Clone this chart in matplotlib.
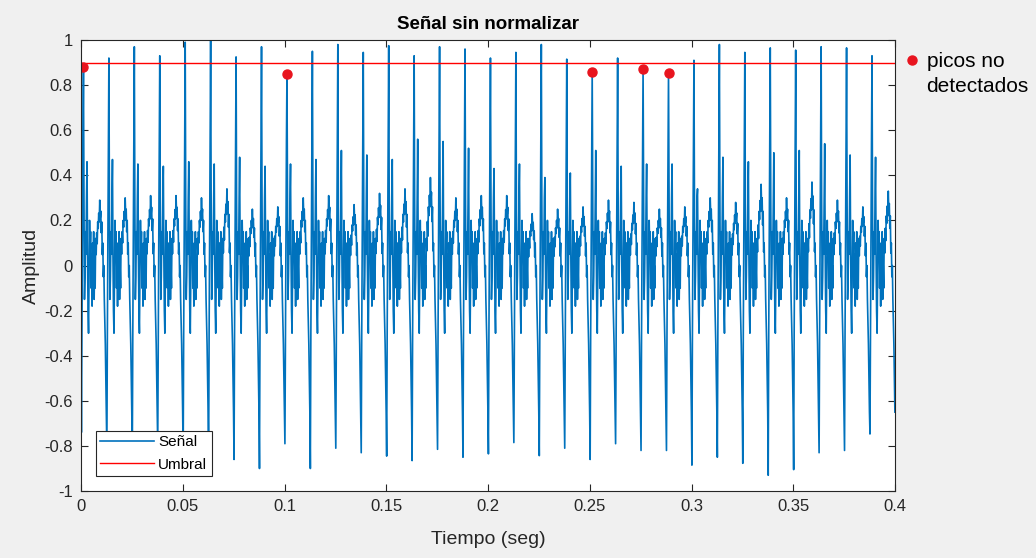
import matplotlib
matplotlib.use("Agg")
import matplotlib.pyplot as plt
from matplotlib.lines import Line2D
import numpy as np

plt.rcParams['font.family'] = ['Liberation Sans', 'DejaVu Sans']

# datos
periodo = 0.0125
dt = 0.00025
t_inicio = 0.0002
valor_inicial = -0.35
umbral = 0.9

# forma de un ciclo (valle en 0, pico en 4, pico secundario en 11, joroba 29-41)
ciclo_base = [-0.85, -0.30, 0.10, 0.55, 0.95, 0.30, -0.15, -0.05, 0.15, 0.05,
              0.30, 0.47, 0.05, -0.20, -0.30, -0.05, 0.20, 0.05, 0.15, -0.10,
              0.05, -0.18, 0.10, -0.05, 0.15, -0.15, 0.00, -0.10, 0.12, 0.05,
              0.15, 0.10, 0.20, 0.17, 0.24, 0.20, 0.30, 0.22, 0.25, 0.15,
              0.20, 0.05, 0.10, -0.05, 0.00, -0.15, -0.25, -0.35, -0.50, -0.65]

# picos maximos de cada ciclo
picos = [0.88, 0.92, 0.97, 0.93, 0.99, 1.0, 0.925, 0.97, 0.85, 0.95,
         0.98, 0.945, 0.975, 0.93, 0.97, 0.96, 0.92, 0.945, 0.98, 0.915,
         0.86, 0.92, 0.87, 0.855, 0.91, 0.98, 0.945, 0.965, 0.955, 0.97,
         0.965, 0.93]

# valles (minimos) de cada ciclo
valles = [-0.74, -0.82, -0.85, -0.80, -0.84, -0.88, -0.86, -0.90, -0.79, -0.90,
          -0.81, -0.83, -0.845, -0.865, -0.815, -0.85, -0.835, -0.785, -0.843, -0.81,
          -0.86, -0.79, -0.82, -0.82, -0.885, -0.85, -0.877, -0.93, -0.905, -0.83,
          -0.82, -0.747]

# pico secundario de cada ciclo
secundarios = [0.46, 0.47, 0.45, 0.44, 0.46, 0.45, 0.48, 0.44, 0.45, 0.47,
               0.51, 0.49, 0.47, 0.56, 0.55, 0.52, 0.43, 0.45, 0.39, 0.41,
               0.51, 0.44, 0.45, 0.45, 0.34, 0.48, 0.46, 0.50, 0.51, 0.54,
               0.49, 0.48]

# altura de la joroba de cada ciclo
jorobas = [0.29, 0.30, 0.31, 0.31, 0.30, 0.34, 0.25, 0.26, 0.30, 0.31,
           0.27, 0.32, 0.34, 0.39, 0.30, 0.31, 0.31, 0.23, 0.25, 0.26,
           0.29, 0.28, 0.25, 0.26, 0.30, 0.28, 0.36, 0.30, 0.37, 0.29,
           0.26, 0.33]

#armar la senal
senal = [valor_inicial]
for k in range(len(picos)):
    ciclo = list(ciclo_base)
    ciclo[0] = valles[k]
    ciclo[4] = picos[k]
    ciclo[11] = secundarios[k]
    for i in range(29, 42):
        ciclo[i] = ciclo_base[i] * jorobas[k] / 0.30
    senal = senal + ciclo
senal = np.array(senal)
tiempo = np.concatenate([[0.0], t_inicio + np.arange(len(senal) - 1) * dt])

#picos por debajo del umbral
t_picos = np.array([t_inicio + k * periodo + 4 * dt for k in range(len(picos))])
v_picos = np.array(picos)
no_det = v_picos < umbral

#graficos
fig = plt.figure(figsize=(10.36, 5.58), dpi=100)
fig.patch.set_facecolor('#f0f0f0')
ax = fig.add_axes([0.0782, 0.12, 0.7857, 0.8083])

l1, = ax.plot(tiempo, senal, color='#0072bd', linewidth=1.2, label='Señal')
l2 = ax.axhline(umbral, color='#ff0000', linewidth=1.0, label='Umbral')
p1, = ax.plot(t_picos[no_det], v_picos[no_det], 'o', color='#e8141e',
              markersize=6.5, linestyle='none', label='picos no')

xt = np.arange(0, 0.41, 0.05)
yt = np.arange(-1, 1.01, 0.2)
ax.set_xlim(0, 0.4)
ax.set_ylim(-1, 1)
ax.set_xticks(xt)
ax.set_yticks(yt)
ax.set_xticklabels(['%g' % (round(v, 2) + 0.0) for v in xt])
ax.set_yticklabels(['%g' % (round(v, 1) + 0.0) for v in yt])
ax.tick_params(direction='in', top=True, right=True, length=5, width=0.8,
               labelsize=12, colors='#262626', pad=6)
for s in ax.spines.values():
    s.set_color('#262626')
    s.set_linewidth(0.8)

ax.set_title('Señal sin normalizar', fontsize=13.5, fontweight='bold', pad=8)
ax.set_xlabel('Tiempo (seg)', fontsize=14, color='#262626', labelpad=12)
ax.set_ylabel('Amplitud', fontsize=14, color='#262626', labelpad=3)

leg1 = ax.legend(handles=[l1, l2], loc='lower left', bbox_to_anchor=(0.018, 0.033),
                 borderaxespad=0, fontsize=11, fancybox=False, edgecolor='#262626',
                 framealpha=1, handlelength=3.5, borderpad=0.3, labelspacing=0.55,
                 handletextpad=0.3)
leg1.get_frame().set_linewidth(0.8)
ax.add_artist(leg1)

# segunda linea del texto de la leyenda, sin marcador
vacio = Line2D([], [], linestyle='none', marker=None, label='detectados')
leg2 = ax.legend(handles=[p1, vacio], loc='upper left', bbox_to_anchor=(1.008, 0.982),
                 borderaxespad=0, borderpad=0.2, fontsize=15, frameon=False,
                 handlelength=0.6, handletextpad=0.4, labelspacing=0.25)

fig.savefig('out.png', dpi=100, facecolor=fig.get_facecolor())
